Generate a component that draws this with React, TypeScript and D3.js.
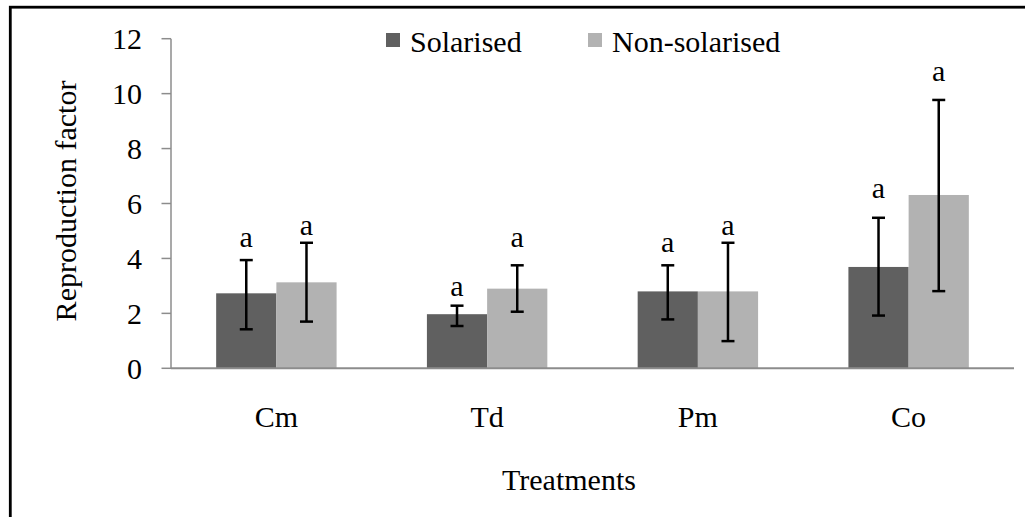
import React from "react";
import * as d3 from "d3";

const categories = ["Cm", "Td", "Pm", "Co"];
const seriesNames = ["Solarised", "Non-solarised"];
const solarised = [2.73, 1.97, 2.8, 3.69];
const nonSolarised = [3.13, 2.9, 2.8, 6.31];
const solarisedErrHigh = [3.94, 2.28, 3.75, 5.48];
const solarisedErrLow = [1.42, 1.54, 1.78, 1.92];
const nonSolarisedErrHigh = [4.57, 3.75, 4.57, 9.77];
const nonSolarisedErrLow = [1.7, 2.06, 0.99, 2.81];
const solarisedLetters = ["a", "a", "a", "a"];
const nonSolarisedLetters = ["a", "a", "a", "a"];
const solarisedLetterPos = [4.43, 2.63, 4.24, 6.19];
const nonSolarisedLetterPos = [4.85, 4.43, 4.85, 10.46];
const yTicks = [0, 2, 4, 6, 8, 10, 12];

const colors = ["#606060", "#b2b2b2"];
const FONT = "Liberation Serif, Tinos, Times New Roman, DejaVu Serif, serif";
const textStyle: React.CSSProperties = { fontFamily: FONT };

export default function App() {
  const W = 1025, H = 517;
  const x0 = 171, x1 = 1014;
  const y = d3.scaleLinear().domain([0, 12]).range([368.3, 38.7]);
  const x = d3.scaleBand<string>().domain(categories).range([x0, x1]).padding(0);
  const xs = d3
    .scaleBand<string>()
    .domain(seriesNames)
    .range([0, x.bandwidth()])
    .paddingInner(0)
    .paddingOuter(0.75);

  const series = [
    { name: seriesNames[0], vals: solarised, hi: solarisedErrHigh, lo: solarisedErrLow, letters: solarisedLetters, lpos: solarisedLetterPos },
    { name: seriesNames[1], vals: nonSolarised, hi: nonSolarisedErrHigh, lo: nonSolarisedErrLow, letters: nonSolarisedLetters, lpos: nonSolarisedLetterPos },
  ];
  const fs = 30;
  const bw = xs.bandwidth();
  const cap = 6.5;

  return (
    <svg width={W} height={H} style={{ position: "absolute", left: 0, top: 0, background: "#fff", fontFamily: FONT }}>
      <rect x={0} y={0} width={W} height={H} fill="#fff" />
      {/* frame */}
      <rect x={10.3} y={7.2} width={1200} height={700} fill="none" stroke="#000" strokeWidth={2.8} />

      {/* bars */}
      {series.map((s, si) =>
        categories.map((c, i) => {
          const bx = (x(c) as number) + (xs(s.name) as number);
          return (
            <rect key={`b${si}${i}`} x={bx} y={y(s.vals[i])} width={bw} height={y(0) - y(s.vals[i])} fill={colors[si]} />
          );
        })
      )}

      {/* axes */}
      <line x1={x0} x2={x0} y1={y(12)} y2={y(0)} stroke="#8c8c8c" strokeWidth={1.5} />
      <line x1={x0} x2={x1} y1={y(0)} y2={y(0)} stroke="#8c8c8c" strokeWidth={2} />
      {yTicks.map((t) => (
        <g key={`t${t}`}>
          <line x1={x0 - 9.5} x2={x0} y1={y(t)} y2={y(t)} stroke="#8c8c8c" strokeWidth={1.5} />
          <text x={142} y={y(t) + 10.5} textAnchor="end" fontSize={fs} fill="#000" style={textStyle}>
            {t}
          </text>
        </g>
      ))}

      {/* error bars */}
      {series.map((s, si) =>
        categories.map((c, i) => {
          const cx = (x(c) as number) + (xs(s.name) as number) + bw / 2;
          return (
            <g key={`e${si}${i}`} stroke="#000" strokeWidth={2.5}>
              <line x1={cx} x2={cx} y1={y(s.hi[i])} y2={y(s.lo[i])} />
              <line x1={cx - cap} x2={cx + cap} y1={y(s.hi[i])} y2={y(s.hi[i])} />
              <line x1={cx - cap} x2={cx + cap} y1={y(s.lo[i])} y2={y(s.lo[i])} />
            </g>
          );
        })
      )}

      {/* letters */}
      {series.map((s, si) =>
        categories.map((c, i) => {
          const cx = (x(c) as number) + (xs(s.name) as number) + bw / 2;
          return (
            <text key={`l${si}${i}`} x={cx} y={y(s.lpos[i])} textAnchor="middle" fontSize={fs} fill="#000" style={textStyle}>
              {s.letters[i]}
            </text>
          );
        })
      )}

      {/* category labels */}
      {categories.map((c) => (
        <text key={`c${c}`} x={(x(c) as number) + x.bandwidth() / 2} y={427} textAnchor="middle" fontSize={fs} fill="#000" style={textStyle}>
          {c}
        </text>
      ))}

      {/* axis titles */}
      <text x={569} y={490} textAnchor="middle" fontSize={fs} fill="#000" style={textStyle}>
        Treatments
      </text>
      <text transform={`translate(76,201) rotate(-90)`} textAnchor="middle" fontSize={fs} fill="#000" style={textStyle}>
        Reproduction factor
      </text>

      {/* legend */}
      <rect x={386} y={33} width={14} height={14} fill={colors[0]} />
      <text x={410} y={51.5} fontSize={fs} fill="#000" style={textStyle}>
        {seriesNames[0]}
      </text>
      <rect x={588} y={33} width={14} height={14} fill={colors[1]} />
      <text x={612} y={51.5} fontSize={fs} fill="#000" style={textStyle}>
        {seriesNames[1]}
      </text>
    </svg>
  );
}
